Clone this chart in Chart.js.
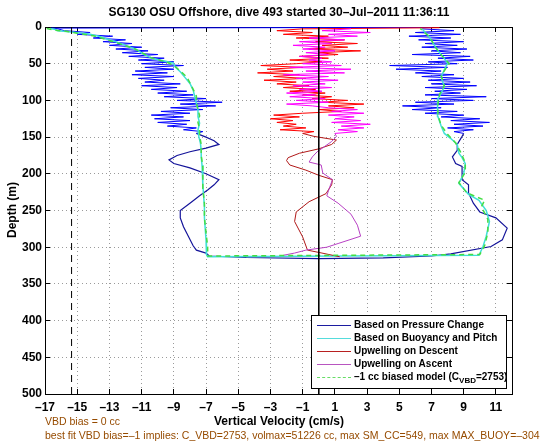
<!DOCTYPE html>
<html>
<head>
<meta charset="utf-8">
<script src="https://cdn.jsdelivr.net/npm/chart.js@4/dist/chart.umd.min.js"></script>
<style>
  body{margin:0;background:#fff;font-family:"Liberation Sans",Arial,Helvetica,sans-serif}
  #wrap{position:relative;width:560px;height:442px;overflow:hidden}
  #chart{position:absolute;left:0;top:0}
  .txt{position:absolute;white-space:nowrap;line-height:1}
  #title{left:0;width:558px;top:6px;text-align:center;font-weight:bold;font-size:12px}
  #xTitle{left:0;width:558px;top:415px;text-align:center;font-weight:bold;font-size:12px}
  #yTitle{left:12px;top:210px;font-weight:bold;font-size:12px;transform:translate(-50%,-50%) rotate(-90deg)}
  .brown{color:rgb(150,75,0);font-size:10.5px;left:45px}
  #legend{position:absolute;left:311px;top:315px;width:196px;height:74px;border:1px solid #000;background:#fff;box-sizing:border-box}
  .row{position:absolute;left:5px;height:12px;font-size:10px;font-weight:bold;line-height:12px}
  .row i{position:absolute;left:0;top:6px;width:34px;border-top:1.5px solid}
  .row span{position:absolute;left:37px;top:0;white-space:nowrap}
  sub{font-size:8px;vertical-align:-3px;line-height:0}
</style>
</head>
<body>
<div id="wrap">
  <canvas id="chart" width="560" height="442"></canvas>
  <div class="txt" id="title">SG130 OSU Offshore, dive 493 started 30–Jul–2011 11:36:11</div>
  <div class="txt" id="xTitle">Vertical Velocity (cm/s)</div>
  <div class="txt" id="yTitle">Depth (m)</div>
  <div class="txt brown" style="top:416px">VBD bias = 0 cc</div>
  <div class="txt brown" style="top:430px">best fit VBD bias=–1 implies: C_VBD=2753, volmax=51226 cc, max SM_CC=549, max MAX_BUOY=–304</div>
  <div id="legend">
    <div class="row" style="top:3px"><i style="border-color:#1c1ca0"></i><span>Based on Pressure Change</span></div>
    <div class="row" style="top:16px"><i style="border-color:#55dcdc"></i><span>Based on Buoyancy and Pitch</span></div>
    <div class="row" style="top:29px"><i style="border-color:#b82020"></i><span>Upwelling on Descent</span></div>
    <div class="row" style="top:42px"><i style="border-color:#b855c0"></i><span>Upwelling on Ascent</span></div>
    <div class="row" style="top:55px"><i style="border-color:#66dd66;border-top-style:dashed"></i><span>–1 cc biased model (C<sub>VBD</sub>=2753)</span></div>
  </div>
</div>
<script>
// axis ticks
const xTicks = [-17, -15, -13, -11, -9, -7, -5, -3, -1, 1, 3, 5, 7, 9, 11];
const yTicks = [0, 50, 100, 150, 200, 250, 300, 350, 400, 450, 500];

// depths (m) of the noisy upper part, shared by the noisy series
const depthNoisy = [2.5, 5, 7.5, 10, 12.5, 15, 17.5, 20, 22.5, 25, 27.5, 30, 32.5, 35, 37.5, 40, 42.5, 45, 47.5, 50,
  52.5, 55, 57.5, 60, 62.5, 65, 67.5, 70, 72.5, 75, 77.5, 80, 82.5, 85, 87.5, 90, 92.5, 95, 97.5, 100,
  102.5, 105, 107.5, 110, 112.5, 115, 117.5, 120, 122.5, 125, 127.5, 130, 132.5, 135, 137.5, 140, 142.5, 145];

// pressure change, descent (noisy part)
const blueDescNoisy = [-16.2, -15.8, -14.2, -15.0, -12.8, -14.0, -12.0, -13.4, -11.6, -13.0, -11.0, -12.6, -10.6, -12.2, -10.0, -11.8, -9.6, -11.2, -9.0, -11.0,
  -8.4, -10.8, -9.0, -11.4, -9.4, -11.6, -9.0, -11.2, -9.6, -10.8, -8.6, -11.0, -8.8, -10.4, -8.2, -10.0, -7.8, -9.6, -7.0, -8.8,
  -6.0, -8.6, -6.4, -9.2, -7.2, -9.8, -8.0, -10.4, -8.4, -10.2, -8.0, -10.0, -8.2, -9.4, -7.6, -8.4, -7.2, -7.6];
// pressure change, ascent (noisy part, listed by depth)
const blueAscNoisy = [6.4, 8.4, 6.0, 8.8, 5.6, 8.2, 6.2, 9.0, 6.6, 8.6, 6.4, 9.2, 7.0, 8.8, 5.8, 9.4, 7.4, 9.6, 6.8, 8.6,
  4.4, 8.0, 4.8, 7.6, 6.0, 8.4, 6.4, 9.0, 6.8, 9.4, 7.0, 9.8, 6.6, 9.2, 7.2, 8.8, 6.6, 10.4, 7.0, 9.6,
  6.0, 8.4, 5.2, 7.6, 5.8, 8.6, 6.6, 9.0, 7.6, 10.0, 8.2, 10.6, 8.4, 10.2, 8.0, 9.6, 8.4, 9.0];
// pressure change, smooth lower part: descent, bottom turn, ascent
const blueSmoothDepth = [150, 155, 160, 165, 170, 175, 181, 186, 192, 200, 208, 215, 222, 230, 240, 250, 260, 272, 285, 298, 304, 308, 312,
  314, 315.5, 314.5, 312, 309, 299, 290, 274, 260, 252, 240, 226, 215, 208, 190, 186, 177, 168, 160, 149];
const blueSmoothVel = [-7.0, -6.5, -6.2, -7.0, -8.0, -8.8, -9.3, -9.0, -8.0, -7.0, -6.2, -6.5, -6.9, -7.4, -8.0, -8.6, -8.6, -8.4, -8.1, -7.8, -7.6, -7.0, -6.8,
  -4.5, 0.0, 4.0, 7.0, 8.2, 10.7, 11.4, 11.7, 11.0, 10.0, 9.6, 9.3, 9.3, 8.9, 8.9, 8.5, 8.3, 8.6, 8.6, 8.9];

// buoyancy and pitch
const cyanDepth = [2, 3, 5, 8, 10, 13, 16, 20, 25, 31, 37, 43, 49, 55, 61, 69, 77, 86, 95, 104, 113, 122, 131, 140, 149, 158, 168, 177, 188, 199, 215, 230, 245, 260, 275, 290, 304, 310, 313,
  311, 299, 285, 265, 250, 236, 228, 213, 200, 186, 178, 172, 160, 152, 145, 135, 122, 110, 99, 90, 81, 75, 68, 58, 49, 40, 31, 22, 13, 7, 2];
const cyanVel = [-16.7, -16.4, -16.2, -14.8, -14.2, -13.6, -13.2, -12.6, -12.0, -11.3, -10.9, -10.3, -9.05, -8.9, -8.6, -8.3, -8.0, -7.8, -7.7, -7.6, -7.5, -7.5, -7.4, -7.5, -7.45, -7.35, -7.3, -7.3, -7.25, -7.2, -7.2, -7.15, -7.1, -7.1, -7.05, -7.0, -7.0, -6.95, -6.9,
  9.95, 10.2, 10.4, 10.6, 10.4, 9.95, 9.3, 8.7, 9.0, 9.1, 8.9, 8.7, 8.6, 8.2, 7.8, 7.6, 7.4, 7.4, 7.35, 7.6, 7.8, 7.7, 7.6, 7.8, 8.0, 7.7, 7.35, 7.1, 6.85, 6.6, 6.4];

// -1 cc biased model
const greenDepth = [2, 4, 6, 9, 12, 15, 19, 24, 30, 36, 42, 48, 54, 60, 68, 76, 85, 94, 103, 112, 121, 130, 139, 148, 160, 175, 190, 205, 220, 240, 260, 280, 300, 312,
  310, 298, 280, 262, 245, 236, 226, 212, 198, 185, 170, 158, 146, 134, 120, 105, 92, 80, 66, 50, 38, 26, 14, 6, 2];
const greenVel = [-16.9, -16.5, -15.6, -14.9, -14.0, -13.5, -12.9, -12.2, -11.4, -10.9, -10.4, -9.4, -8.9, -8.6, -8.2, -8.0, -7.8, -7.6, -7.6, -7.5, -7.4, -7.5, -7.4, -7.4, -7.3, -7.3, -7.2, -7.2, -7.2, -7.1, -7.1, -7.0, -6.9, -6.9,
  10.0, 10.3, 10.5, 10.5, 10.1, 10.3, 9.2, 8.7, 9.1, 9.1, 8.8, 8.5, 8.0, 7.6, 7.4, 7.4, 7.5, 7.8, 7.6, 8.1, 7.6, 7.2, 6.9, 6.5, 6.3];

// upwelling on descent
const redNoisy = [-1.0, -2.6, -0.4, -2.2, 0.6, -1.4, 1.6, -0.2, 2.4, 0.2, 1.8, -0.6, 2.6, 0.0, 1.2, -1.2, 0.6, -1.8, 0.2, -1.4,
  -3.6, -1.0, -3.2, -1.6, -3.8, -1.2, -2.8, -0.8, -3.4, -1.4, -2.6, -0.6, -2.2, -0.2, -1.8, 0.4, -1.0, 0.8, -0.4, 1.8,
  0.2, 2.8, 0.6, 2.2, 0.0, 1.4, -1.0, -2.8, -1.2, -3.0, -1.6, -2.6, -1.4, -2.2, -0.8, -2.4, -0.3, -1.0];
const redSmoothDepth = [149, 154, 160, 166, 172, 178, 182, 188, 195, 202, 208, 215, 227, 238, 252, 265, 286, 304, 308, 313];
const redSmoothVel = [-0.3, 1.1, 0.8, 0.0, -1.2, -1.9, -2.0, -1.8, -0.8, 0.0, 0.85, 0.8, 0.45, -0.6, -1.4, -1.5, -1.0, -0.7, 0.2, 1.3];

// upwelling on ascent
const magentaNoisy = [2.0, 0.2, 3.2, 0.6, 2.4, -0.6, 1.6, -1.2, 0.8, -1.6, 0.4, -1.0, 1.0, -0.8, 0.6, -1.2, 0.2, -0.6, 0.8, -1.0,
  1.4, -1.8, 2.0, -0.8, 1.6, -2.2, 0.6, -1.4, 1.2, -1.0, 0.4, -1.6, 0.8, -1.2, 0.2, -2.0, -0.2, -1.8, 0.4, -1.4,
  0.6, -2.0, -0.4, 0.6, 2.4, 0.8, 2.8, 0.6, 2.2, 1.0, 2.6, 0.8, 3.2, 1.4, 2.8, 1.2, 2.4, 1.0];
const magentaSmoothDepth = [149, 156, 163, 170, 177, 184, 188, 199, 208, 220, 230, 240, 255, 270, 285, 295, 300, 304, 308, 311];
const magentaSmoothVel = [1.1, 0.8, 0.35, -0.1, -0.4, -0.6, 0.15, 0.25, 0.85, 0.65, 0.5, 1.2, 2.0, 2.4, 2.6, 1.2, 0.5, -0.8, -1.5, -2.2];

// reference lines
const vbdLineX = -15.35;
const zeroLineX = 0;

function pts(xs, ys){ return xs.map((v, i) => ({x: v, y: ys[i]})); }

const blueDesc = [{x: 7.0, y: 0.5}, {x: -16.6, y: 1.5}].concat(pts(blueDescNoisy, depthNoisy));
const blueSmooth = pts(blueSmoothVel, blueSmoothDepth);
const blueAsc = pts(blueAscNoisy, depthNoisy).reverse();
const blueAll = blueDesc.concat(blueSmooth, blueAsc);
const redAll = [{x: 7.5, y: 1}].concat(pts(redNoisy, depthNoisy));
const redLow = [redAll[redAll.length - 1]].concat(pts(redSmoothVel, redSmoothDepth));
const magAll = pts(magentaNoisy, depthNoisy);
const magLow = [magAll[magAll.length - 1]].concat(pts(magentaSmoothVel, magentaSmoothDepth));

function ds(data, color, width, extra){
  return Object.assign({data: data, borderColor: color, borderWidth: width, showLine: true,
    pointRadius: 0, fill: false, tension: 0}, extra || {});
}

const fontTick = {family: '"Liberation Sans", Arial, sans-serif', size: 12, weight: 'bold'};
const minus = v => String(v).replace('-', '\u2013');
// inward tick marks like the original figure
const tickGrid = {color: '#9a9a9a', lineWidth: 1, drawTicks: true, tickLength: -5, tickColor: '#000', tickWidth: 1};
const frameGrid = {display: true, drawOnChartArea: false, drawTicks: true, tickLength: -5, tickColor: '#000', tickWidth: 1};

new Chart(document.getElementById('chart'), {
  type: 'scatter',
  data: {
    datasets: [
      ds([{x: zeroLineX, y: 0}, {x: zeroLineX, y: 500}], '#000', 1),
      ds([{x: vbdLineX, y: 0}, {x: vbdLineX, y: 500}], '#000', 1, {borderDash: [7, 5]}),
      ds(pts(greenVel, greenDepth), '#44dd44', 1.5, {borderDash: [5, 4]}),
      ds(magLow, '#b840c4', 1),
      ds(magAll, '#ff00ff', 1),
      ds(redLow, '#b01818', 1),
      ds(redAll, '#ff0000', 1),
      ds(pts(cyanVel, cyanDepth), '#40e0d8', 1.5),
      ds(blueAll.slice(0, blueDesc.length), '#0000ff', 1),
      ds(blueAll.slice(blueDesc.length - 1, blueDesc.length + blueSmooth.length + 1), '#14149a', 1.2),
      ds(blueAll.slice(blueDesc.length + blueSmooth.length), '#0000ff', 1)
    ]
  },
  options: {
    responsive: false,
    animation: false,
    devicePixelRatio: 1,
    layout: {padding: {top: 27, right: 48, left: 0, bottom: 0}},
    plugins: {legend: {display: false}, tooltip: {enabled: false}},
    scales: {
      x: {
        type: 'linear', min: -17, max: 12,
        afterBuildTicks: s => { s.ticks = xTicks.map(v => ({value: v})); },
        afterFit: s => { s.height = 48; },
        grid: tickGrid,
        border: {color: '#000', width: 1, dash: [1, 3]},
        ticks: {color: '#000', font: fontTick, padding: 11, maxRotation: 0, autoSkip: false, callback: v => minus(v)}
      },
      y: {
        type: 'linear', min: 0, max: 500, reverse: true,
        afterBuildTicks: s => { s.ticks = yTicks.map(v => ({value: v})); },
        afterFit: s => { s.width = 45; },
        grid: tickGrid,
        border: {color: '#000', width: 1, dash: [1, 3]},
        ticks: {color: '#000', font: fontTick, padding: 8, autoSkip: false}
      },
      x2: {
        type: 'linear', position: 'top', min: -17, max: 12,
        afterBuildTicks: s => { s.ticks = xTicks.map(v => ({value: v})); },
        afterFit: s => { s.height = 0; },
        grid: frameGrid,
        border: {color: '#000', width: 1},
        ticks: {display: false}
      },
      y2: {
        type: 'linear', position: 'right', min: 0, max: 500, reverse: true,
        afterBuildTicks: s => { s.ticks = yTicks.map(v => ({value: v})); },
        afterFit: s => { s.width = 0; },
        grid: frameGrid,
        border: {color: '#000', width: 1},
        ticks: {display: false}
      }
    }
  }
});
</script>
</body>
</html>
